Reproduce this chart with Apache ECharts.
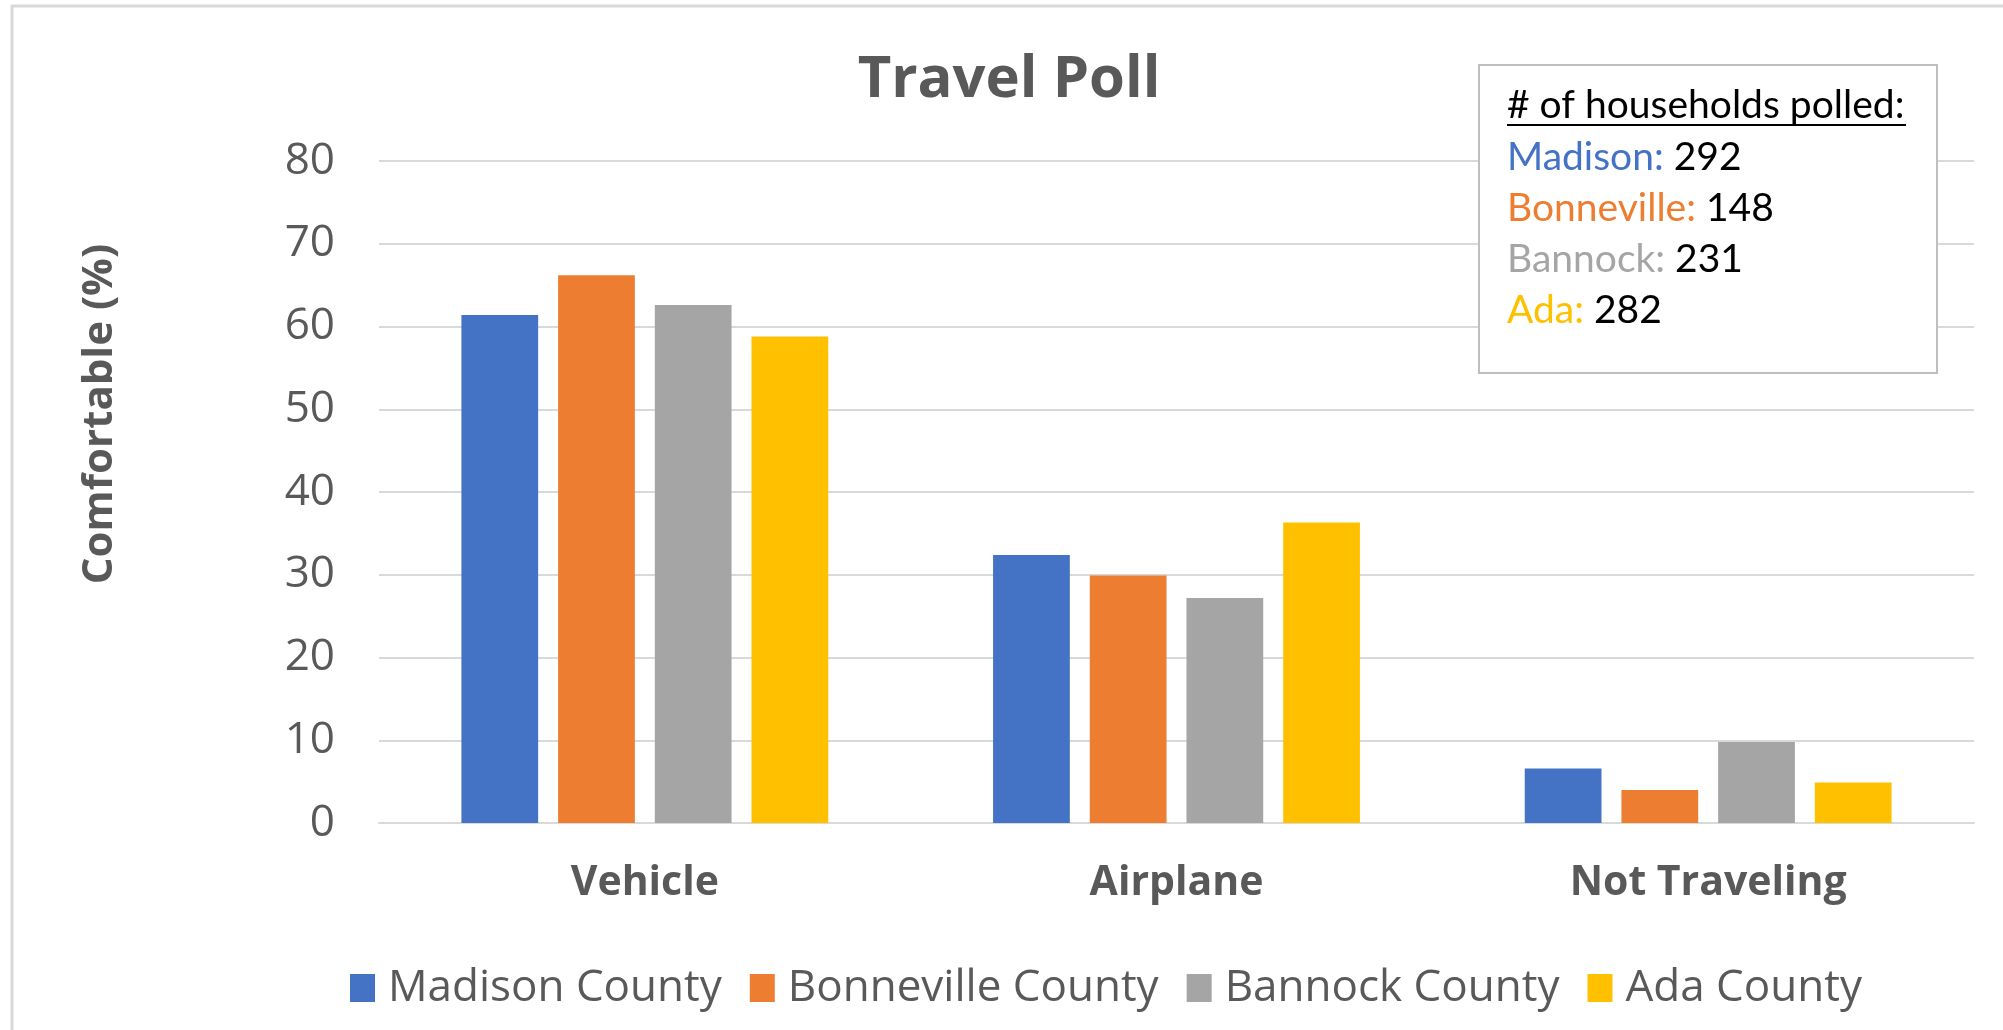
<!DOCTYPE html>
<html><head><meta charset="utf-8">
<script src="https://cdn.jsdelivr.net/npm/echarts@6/dist/echarts.min.js"></script>
<style>html,body{margin:0;padding:0;background:#fff}#c{width:2003px;height:1030px}</style>
</head><body><div id="c"></div>
<script>
const categories = ['Vehicle', 'Airplane', 'Not Traveling'];
const seriesNames = ['Madison County', 'Bonneville County', 'Bannock County', 'Ada County'];
const madison = [61.4, 32.4, 6.6];
const bonneville = [66.2, 29.9, 4.0];
const bannock = [62.6, 27.2, 9.8];
const ada = [58.8, 36.3, 4.9];
const yTicks = [0, 10, 20, 30, 40, 50, 60, 70, 80];
const pollNames = ['Madison:', 'Bonneville:', 'Bannock:', 'Ada:'];
const pollCounts = [292, 148, 231, 282];
const colors = ['#4472C4', '#ED7D31', '#A5A5A5', '#FFC000'];
const txt = '#595959';

const chart = echarts.init(document.getElementById('c'));
const seriesData = [madison, bonneville, bannock, ada];

const annoTexts = pollNames.map((n, i) => ({
  type: 'text', x: 1507, y: 157 + i * 51, z: 102,
  style: {
    text: '{a|' + n + ' }{b|' + pollCounts[i] + '}',
    verticalAlign: 'middle',
    rich: {
      a: { fill: colors[i], fontFamily: 'Lato', fontSize: 39 },
      b: { fill: '#000', fontFamily: 'Lato', fontSize: 39 }
    }
  }
}));

chart.setOption({
  animation: false,
  color: colors,
  title: {
    text: 'Travel Poll', left: 1004, top: 46, textAlign: 'center',
    textStyle: { fontFamily: 'Open Sans', fontWeight: 'bold', fontSize: 58, color: txt }
  },
  grid: { left: 379, right: 29, top: 161, bottom: 207, containLabel: false },
  legend: {
    left: 345, top: 961, itemWidth: 25, itemHeight: 28, itemGap: 28,
    icon: 'rect',
    textStyle: { fontFamily: 'Open Sans', fontSize: 44, color: txt, padding: [0, 0, 0, 8] },
    data: seriesNames
  },
  xAxis: {
    type: 'category', data: categories,
    axisLine: { lineStyle: { color: '#D9D9D9', width: 2 } },
    axisTick: { show: false },
    axisLabel: { fontFamily: 'Open Sans', fontWeight: 'bold', fontSize: 41, color: txt, margin: 40 }
  },
  yAxis: {
    type: 'value', min: 0, max: 80, interval: 10,
    axisLine: { show: false }, axisTick: { show: false },
    splitLine: { lineStyle: { color: '#D9D9D9', width: 2 } },
    axisLabel: { fontFamily: 'Open Sans', fontSize: 44, color: txt, margin: 44,
      formatter: v => yTicks.includes(v) ? String(v) : '' }
  },
  series: seriesNames.map((n, i) => ({
    name: n, type: 'bar', data: seriesData[i],
    barGap: '26%', barCategoryGap: '31%'
  })),
  graphic: [
    { type: 'polyline', shape: { points: [[12, 1030], [12, 6], [2003, 6]] },
      style: { stroke: '#D9D9D9', lineWidth: 3, fill: null } },
    { type: 'text', x: 100, y: 414, rotation: Math.PI / 2,
      style: { text: 'Comfortable (%)', fill: txt, fontFamily: 'Open Sans', fontWeight: 'bold',
        fontSize: 42, align: 'center', verticalAlign: 'middle' } },
    { type: 'rect', shape: { x: 1479, y: 65, width: 458, height: 308 },
      style: { fill: '#fff', stroke: '#BFBFBF', lineWidth: 2 }, z: 100 },
    { type: 'text', x: 1507, y: 105, z: 102,
      style: { text: '# of households polled:', fill: '#000', fontFamily: 'Lato', fontSize: 39,
        verticalAlign: 'middle' } },
    { type: 'line', z: 102, shape: { x1: 1507, y1: 125, x2: 1906, y2: 125 },
      style: { stroke: '#000', lineWidth: 2 } }
  ].concat(annoTexts)
});
</script></body></html>
